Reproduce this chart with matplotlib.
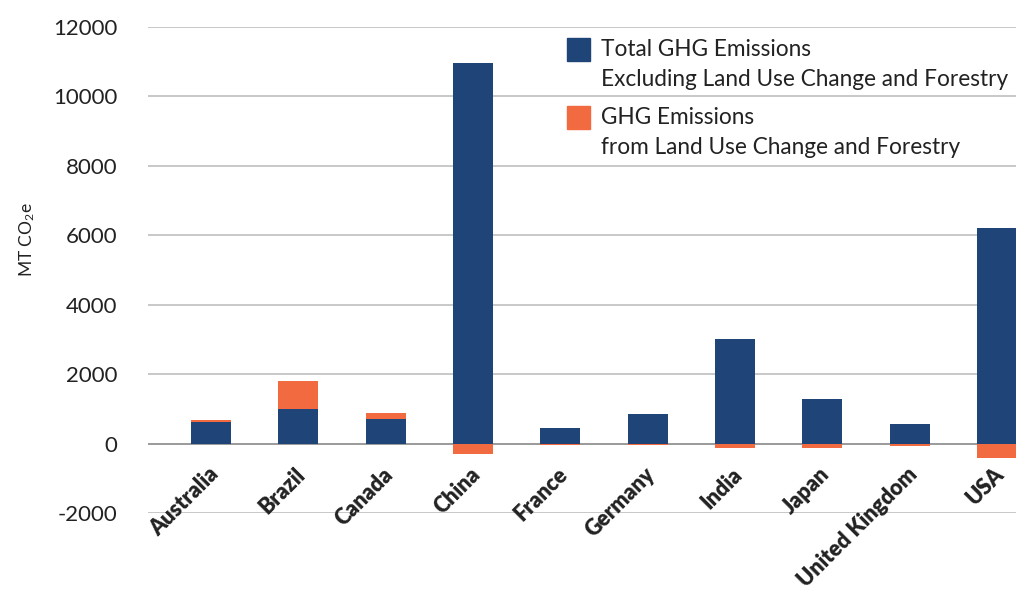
import matplotlib.pyplot as plt
import matplotlib.transforms as mtransforms
from matplotlib.patches import Rectangle
import numpy as np

plt.rcParams["font.family"] = ["Lato", "DejaVu Sans"]
plt.rcParams["mathtext.fontset"] = "custom"
plt.rcParams["mathtext.rm"] = "Lato"
plt.rcParams["mathtext.it"] = "Lato"

countries = ["Australia", "Brazil", "Canada", "China", "France",
             "Germany", "India", "Japan", "United Kingdom", "USA"]
excl_lucf = [610, 1000, 700, 10970, 460, 860, 3020, 1295, 550, 6220]
lucf = [55, 810, 170, -290, -55, -55, -135, -130, -60, -430]

blue = "#1F4578"
orange = "#F26A3F"

fig = plt.figure(figsize=(10.16, 5.9), dpi=100)
ax = fig.add_axes([148 / 1016, 1 - 513 / 590, 1 - 148 / 1016, (513 - 27) / 590])

x = np.arange(len(countries))
excl = np.array(excl_lucf)
lu = np.array(lucf)
width = 0.46

ax.bar(x, excl, width, color=blue, zorder=3)
# positive land-use values stack on top, negative ones hang below zero
lu_bottom = np.where(lu > 0, excl, 0)
ax.bar(x, lu, width, bottom=lu_bottom, color=orange, zorder=3)

ax.set_ylim(-2000, 12000)
ax.set_xlim(-0.721, 9.218)
yt = np.arange(-2000, 12001, 2000)
ax.set_yticks(yt)
ax.set_yticklabels([str(v) for v in yt], fontsize=16, color="#222222")
for v in yt:
    if v == 0:
        ax.axhline(v, color="#9A9A9A", lw=1.4, zorder=2)
    else:
        ax.axhline(v, color="#C8C8C8", lw=1.4, zorder=1)

ax.tick_params(axis="y", length=0, pad=22)
ax.tick_params(axis="x", length=0, pad=0)
ax.set_xticks(x)
ax.set_xticklabels(countries, rotation=45, ha="right", va="center",
                   rotation_mode="anchor", fontsize=15.5, fontweight="heavy",
                   color="#222222")
offset = mtransforms.ScaledTranslation(4 / 100, 42 / 100, fig.dpi_scale_trans)
for lab in ax.get_xticklabels():
    lab.set_transform(lab.get_transform() + offset)

for s in ax.spines.values():
    s.set_visible(False)

fig.text(27 / 1016, 1 - 240 / 590, "MT CO$_2$e", rotation=90, ha="center",
         va="center", fontsize=12.5, color="#222222")

# legend drawn by hand so the swatch sits beside the first line
def fx(px):
    return px / 1016

def fy(py):
    return 1 - py / 590

fig.patches.append(Rectangle((fx(567), fy(61)), fx(23), 23 / 590, color=blue,
                             transform=fig.transFigure, figure=fig))
fig.patches.append(Rectangle((fx(567), fy(129)), fx(23), 23 / 590, color=orange,
                             transform=fig.transFigure, figure=fig))
leg_font = 16.3
fig.text(fx(601), fy(49), "Total GHG Emissions", fontsize=leg_font, va="center",
         color="#222222")
fig.text(fx(601), fy(79), "Excluding Land Use Change and Forestry", fontsize=leg_font,
         va="center", color="#222222")
fig.text(fx(601), fy(117), "GHG Emissions", fontsize=leg_font, va="center",
         color="#222222")
fig.text(fx(601), fy(147), "from Land Use Change and Forestry", fontsize=leg_font,
         va="center", color="#222222")

fig.savefig("out.png", dpi=100)
